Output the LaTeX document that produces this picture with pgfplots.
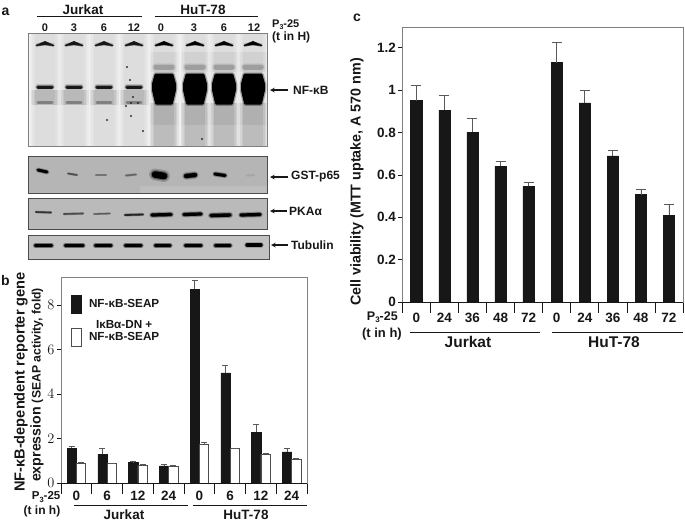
\documentclass[border=0pt]{standalone}
\usepackage{pgfplots}
\pgfplotsset{compat=1.18}
\usepackage{fontspec}
\setmainfont{Liberation Sans}[BoldFont={Liberation Sans Bold}]
\definecolor{ink}{gray}{0.09}
\definecolor{framec}{gray}{0.5}
\newcommand\fs[1]{\fontsize{#1}{#1}\selectfont\bfseries}
\newcommand\pthree[1]{P\raisebox{-.18em}{\fs{#1}3}}
% filled region (x1,y1,x2,y2,colour,opacity)
\newcommand\rectp[6]{\addplot[draw=none,fill=#5,fill opacity=#6,forget plot] coordinates {(#1,#2)(#3,#2)(#3,#4)(#1,#4)} --cycle;}
% soft band (x1,y1,x2,y2,thickness,colour)
\newcommand\bandp[6]{%
\addplot[draw=#6,line width=#5*1.8pt,draw opacity=.18,line cap=round,no marks,forget plot] coordinates {(#1,#2)(#3,#4)};
\addplot[draw=#6,line width=#5*1.35pt,draw opacity=.35,line cap=round,no marks,forget plot] coordinates {(#1,#2)(#3,#4)};
\addplot[draw=#6,line width=#5*1pt,line cap=round,no marks,forget plot] coordinates {(#1,#2)(#3,#4)};}
% gel lane background with soft edges
\newcommand\lanebg[4]{%
\pgfmathsetmacro\xa{#1-14.5}\pgfmathsetmacro\xb{#1+14.5}\rectp{\xa}{#2}{\xb}{#3}{black}{#4}%
\pgfmathsetmacro\xa{#1-13}\pgfmathsetmacro\xb{#1+13}\rectp{\xa}{#2}{\xb}{#3}{black}{#4}%
\pgfmathsetmacro\xa{#1-11.5}\pgfmathsetmacro\xb{#1+11.5}\rectp{\xa}{#2}{\xb}{#3}{black}{#4}%
\pgfmathsetmacro\xa{#1-10}\pgfmathsetmacro\xb{#1+10}\rectp{\xa}{#2}{\xb}{#3}{black}{#4}}
% well chevron
\newcommand\chev[2]{%
\pgfmathsetmacro\xa{#1-9}\pgfmathsetmacro\xb{#1+9}%
\addplot[fill=#2,draw=#2,line width=.8pt,line join=round,no marks,forget plot] coordinates {(\xa,45.5)(#1,41.5)(\xb,45.5)(#1,44.8)} --cycle;
\addplot[draw=#2,draw opacity=.3,line width=3.4pt,line join=round,no marks,forget plot] coordinates {(\xa,45.5)(#1,43)(\xb,45.5)};}
% Jurkat lane
\newcommand\jlane[1]{%
\lanebg{#1}{34}{146}{.018}
\lanebg{#1}{90}{105}{.045}
\chev{#1}{ink}
\pgfmathsetmacro\xa{#1-7}\pgfmathsetmacro\xb{#1+7}%
\bandp{\xa}{87}{\xb}{87}{3}{ink}
\bandp{\xa}{102.5}{\xb}{102.5}{2.2}{black!50}}
% HuT lane
\newcommand\hlane[1]{%
\lanebg{#1}{34}{146}{.02}
\lanebg{#1}{52}{72}{.015}
\lanebg{#1}{103}{146}{.04}
\lanebg{#1}{103}{125}{.015}
\chev{#1}{black}
\pgfmathsetmacro\xa{#1-8}\pgfmathsetmacro\xb{#1+8}\pgfmathsetmacro\xc{#1-10.5}\pgfmathsetmacro\xd{#1+10.5}\pgfmathsetmacro\xe{#1-7.5}\pgfmathsetmacro\xf{#1+7.5}%
\bandp{\xa}{67}{\xb}{67}{5}{black!38}
\addplot[fill=black,draw=black,line width=5.5pt,draw opacity=.3,line join=round,forget plot] coordinates {(\xa,75)(\xb,75)(\xd,84)(\xd,90)(\xf,103)(\xe,103)(\xc,90)(\xc,84)} --cycle;
\addplot[fill=black,draw=black,line width=3pt,line join=round,forget plot] coordinates {(\xa,75)(\xb,75)(\xd,84)(\xd,90)(\xf,103)(\xe,103)(\xc,90)(\xc,84)} --cycle;}
\begin{document}
\begin{tikzpicture}[x=1pt,y=-1pt]
\useasboundingbox (0,0) rectangle (685,523);
%----------------- panel a (blots) ---------------
\begin{axis}[at={(0pt,-270pt)},anchor=south west,scale only axis,width=345pt,height=270pt,
  xmin=0,xmax=345,ymin=0,ymax=270,y dir=reverse,hide axis,clip=false]
\rectp{28}{33}{267}{146}{black}{.06}
\jlane{45}\jlane{74}\jlane{104}\jlane{134}
\hlane{164}\hlane{195}\hlane{224}\hlane{253}
\addplot[only marks,mark=*,mark size=.9pt,ink,mark options={draw opacity=.6,fill opacity=.8},forget plot] coordinates {(127,67)(130,80)(133,97)(126,106)(138,103)(131,103)(131,116)(107,120)(143,131)(202,139)};
\addplot[draw=framec,line width=.9pt,no marks,forget plot] coordinates {(28,33)(267,33)(267,146)(28,146)} --cycle;
% GST-p65
\rectp{28}{156}{267}{193}{black}{.29}
\rectp{140}{186}{267}{193}{white}{.12}
\bandp{38}{170}{47}{172}{2.8}{black}
\bandp{68}{173.5}{77}{175}{1.5}{black!70}
\bandp{96}{175}{106}{175}{1.6}{black!55}
\bandp{126}{175.5}{136}{174.5}{1.6}{black!60}
\bandp{155}{174.5}{164}{176}{6.6}{black}
\bandp{186}{176}{195}{175}{4.2}{black}
\bandp{215}{174}{225}{175.5}{3}{black}
\bandp{247}{175.5}{254}{175}{1.6}{black!35}
\addplot[draw=black!70,line width=.9pt,no marks,forget plot] coordinates {(28,156)(267,156)(267,193)(28,193)} --cycle;
% PKA alpha
\rectp{28}{198}{267}{229}{black}{.27}
\bandp{36}{212}{51}{212.5}{1.6}{black!80}
\bandp{64}{214}{83}{213.5}{1.6}{black!70}
\bandp{94}{214}{110}{213.5}{1.3}{black!65}
\bandp{125}{215}{143}{214.5}{1.8}{black!85}
\bandp{152}{215}{171}{214.5}{3.2}{black}
\bandp{184}{214.5}{201}{214}{3.2}{black}
\bandp{211}{215.5}{230}{215}{3.4}{black}
\bandp{241}{215}{260}{214.5}{3.2}{black}
\addplot[draw=black!70,line width=.9pt,no marks,forget plot] coordinates {(28,198)(267,198)(267,229)(28,229)} --cycle;
% Tubulin
\rectp{28}{235}{269}{259}{black}{.24}
\bandp{35.5}{245.5}{51.5}{245.5}{3.2}{black}
\bandp{65.5}{245.5}{83}{245.5}{3.2}{black}
\bandp{95.5}{245.5}{111}{245.5}{3.2}{black}
\bandp{125.5}{245.5}{141}{245.5}{3.2}{black}
\bandp{155.5}{245.5}{170}{245.5}{3.2}{black}
\bandp{185.5}{245.5}{201}{245.5}{3.2}{black}
\bandp{215.5}{245.5}{230}{245.5}{3.2}{black}
\bandp{247}{245}{261}{245}{3.2}{black}
\addplot[draw=black!70,line width=.9pt,no marks,forget plot] coordinates {(28,235)(269,235)(269,259)(28,259)} --cycle;
\end{axis}
\begin{scope}[every node/.style={text=ink,inner sep=0pt}]
\node[font=\fs{14}] at (5.5,12) {a};
\node[font=\fs{13.5}] at (83,10) {Jurkat};
\node[font=\fs{13.5}] at (203,10) {HuT-78};
\draw[ink,line width=.7pt] (37,16)--(142,16) (155,16)--(258,16);
\foreach \x/\t in {45/0,74/3,104/6,134/12,161/0,194/3,224/6,254/12}{\node[font=\fs{11}] at (\x,28) {\t};}
\node[font=\fs{11},anchor=west] at (272,25) {\pthree{7}-25};
\node[font=\fs{12},anchor=west] at (272,37) {(t in H)};
\foreach \yy/\t/\xs/\xe/\xt in {90/NF-κB/288/270/293,177/GST-p65/288/270/291,211/PKAα/287/270/289,245/Tubulin/288/271/291}{
 \draw[-stealth,ink,line width=1.1pt] (\xs,\yy)--(\xe,\yy);
 \node[font=\fs{12},anchor=west] at (\xt,\yy) {\t};}
\end{scope}
%----------------- panel b ---------------
\begin{axis}[at={(61pt,-483pt)},anchor=south west,scale only axis,width=246pt,height=206pt,
  xmin=-0.5,xmax=7.5,ymin=0,ymax=9.25,
  ytick={0,2,4,6,8},xtick={0,...,7},xticklabels={0,6,12,24,0,6,12,24},
  minor xtick={-0.5,0.5,...,7.5},
  tick align=outside,tick pos=left,
  axis line style={framec,line width=.7pt},
  major tick length=4pt,minor tick length=10.5pt,
  every tick/.style={ink,line width=.6pt},
  major x tick style={draw=none},
  tick label style={font=\fs{13.5},text=ink},
  yticklabel style={xshift=1pt},
  xticklabel style={yshift=-0.5pt},
  ybar,bar width=9.3pt,
  legend style={at={(axis cs:-0.17,8.45)},anchor=north west,draw=none,fill=none,font=\fs{11.7},text=ink,
    row sep=6pt,inner sep=0pt,cells={align=center,anchor=center},
    /tikz/every odd column/.append style={column sep=5pt}},
  legend image code/.code={\path[#1] (0pt,-8.5pt) rectangle (10pt,9pt);}]
\addplot[fill=ink,draw=ink,bar shift=-4.65pt,error bars/.cd,y dir=plus,y explicit,
   error bar style={black!65,line width=.6pt},error mark options={rotate=90,mark size=3pt,black!65,line width=.6pt}]
 coordinates {(0,1.55)+-(0,.12) (1,1.3)+-(0,.25) (2,.92)+-(0,.07) (3,.77)+-(0,.07) (4,8.7)+-(0,.42) (5,4.95)+-(0,.35) (6,2.28)+-(0,.35) (7,1.4)+-(0,.15)};
\addlegendentry{NF-κB-SEAP}
\addplot[fill=white,draw=black!70,line width=.7pt,bar shift=4.65pt,error bars/.cd,y dir=plus,y explicit,
   error bar style={black!65,line width=.6pt},error mark options={rotate=90,mark size=3pt,black!65,line width=.6pt}]
 coordinates {(0,.88)+-(0,.07) (1,.87)+-(0,0) (2,.78)+-(0,.06) (3,.77)+-(0,.02) (4,1.75)+-(0,.07) (5,1.55)+-(0,0) (6,1.3)+-(0,.05) (7,1.05)+-(0,.05)};
\addlegendentry{IκBα-DN +\\NF-κB-SEAP\\}
\end{axis}
\begin{scope}[every node/.style={text=ink,inner sep=0pt}]
\draw[ink,line width=.9pt] (61,483)--(307,483);
\node[font=\fs{14}] at (5.5,280) {b};
\node[font=\fs{14.6},rotate=90] at (21,382) {NF-κB-dependent reporter gene};
\node[rotate=90] at (37,385) {\fs{14.2}expression \fs{12.2}(SEAP activity, fold)};
\node[font=\fs{11.5},anchor=east] at (60.5,497) {\pthree{7.5}-25};
\node[font=\fs{12},anchor=east] at (60.5,511) {(t in h)};
\draw[ink,line width=.6pt] (74,505)--(188,505) (193,505)--(307,505);
\node[font=\fs{13.5}] at (124,515) {Jurkat};
\node[font=\fs{13.5}] at (246,515) {HuT-78};
\end{scope}
%----------------- panel c ---------------
\begin{axis}[at={(402.3pt,-302pt)},anchor=south west,scale only axis,width=280.7pt,height=275pt,
  xmin=-0.5,xmax=9.5,ymin=0,ymax=1.2975,
  ytick={0,0.2,0.4,0.6,0.8,1,1.2},yticklabels={0,0.2,0.4,0.6,0.8,1,1.2},
  xtick={0,...,9},xticklabels={0,24,36,48,72,0,24,36,48,72},
  minor xtick={-0.5,0.5,...,9.5},
  tick align=outside,tick pos=left,
  axis line style={framec,line width=.7pt},
  major tick length=4pt,minor tick length=10.5pt,
  every tick/.style={ink,line width=.6pt},
  major x tick style={draw=none},
  tick label style={font=\fs{13.5},text=ink},
  yticklabel style={xshift=1pt},
  xticklabel style={yshift=-3.5pt},
  ybar,bar width=11.3pt]
\addplot[fill=ink,draw=ink,bar shift=0pt,error bars/.cd,y dir=plus,y explicit,
   error bar style={black!65,line width=.7pt},error mark options={rotate=90,mark size=5pt,black!65,line width=.7pt}]
 coordinates {(0,.95)+-(0,.07) (1,.905)+-(0,.07) (2,.80)+-(0,.068) (3,.64)+-(0,.023) (4,.545)+-(0,.02) (5,1.13)+-(0,.095) (6,.94)+-(0,.06) (7,.69)+-(0,.025) (8,.507)+-(0,.023) (9,.41)+-(0,.05)};
\end{axis}
\begin{scope}[every node/.style={text=ink,inner sep=0pt}]
\draw[ink,line width=.9pt] (402.3,302)--(683,302);
\node[font=\fs{14}] at (357,18) {c};
\node[font=\fs{14.3},rotate=90] at (357,182) {Cell viability (MTT uptake, A 570 nm)};
\node[font=\fs{12.5},anchor=east] at (398,317) {\pthree{8}-25};
\node[font=\fs{13},anchor=east] at (402,334) {(t in h)};
\draw[ink,line width=.6pt] (410,332)--(540,332) (552,332)--(683,332);
\node[font=\fs{15.5}] at (468,342) {Jurkat};
\node[font=\fs{15.5}] at (614,342) {HuT-78};
\end{scope}
\end{tikzpicture}
\end{document}
